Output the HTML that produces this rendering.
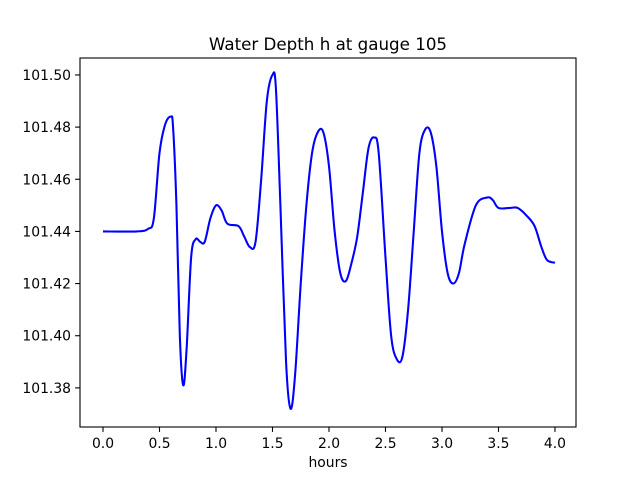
<!DOCTYPE html>
<html><head><meta charset="utf-8"><style>body{margin:0;background:#fff}svg{display:block}text{font-family:"DejaVu Sans","Liberation Sans",sans-serif;fill:#000}</style></head>
<body>
<svg id="chart" width="640" height="480"></svg>
<script>
const tValues=[0,0.3,0.4,0.45,0.5,0.55,0.6,0.62,0.65,0.68,0.71,0.74,0.78,0.82,0.86,0.9,0.95,1.0,1.05,1.1,1.2,1.25,1.3,1.35,1.4,1.45,1.5,1.53,1.57,1.62,1.66,1.7,1.75,1.8,1.85,1.9,1.95,2.0,2.05,2.1,2.15,2.2,2.25,2.3,2.35,2.4,2.44,2.5,2.55,2.6,2.65,2.7,2.75,2.8,2.85,2.9,2.95,3.0,3.05,3.1,3.15,3.2,3.3,3.4,3.45,3.5,3.6,3.67,3.75,3.82,3.88,3.93,4.0];
const hValues=[101.44,101.44,101.441,101.445,101.47,101.481,101.484,101.48,101.45,101.40,101.381,101.395,101.43,101.437,101.436,101.436,101.445,101.45,101.448,101.443,101.442,101.438,101.434,101.436,101.46,101.49,101.50,101.495,101.45,101.39,101.372,101.385,101.42,101.45,101.47,101.478,101.478,101.465,101.44,101.424,101.421,101.428,101.438,101.455,101.472,101.476,101.47,101.43,101.40,101.391,101.392,101.41,101.44,101.47,101.479,101.478,101.465,101.44,101.424,101.42,101.424,101.435,101.45,101.453,101.452,101.449,101.449,101.449,101.446,101.442,101.434,101.429,101.428];
const xTicks=[0,0.5,1,1.5,2,2.5,3,3.5,4];
const xTickLabels=["0.0","0.5","1.0","1.5","2.0","2.5","3.0","3.5","4.0"];
const yTicks=[101.38,101.40,101.42,101.44,101.46,101.48,101.50];
const yTickLabels=["101.38","101.40","101.42","101.44","101.46","101.48","101.50"];
const L=80,R=576,T=58,B=427,xmin=-0.2035,xmax=4.186,ymin=101.365,ymax=101.5065;
const X=v=>L+(v-xmin)/(xmax-xmin)*(R-L), Y=v=>B-(v-ymin)/(ymax-ymin)*(B-T);
const svg=document.getElementById('chart'),NS='http://www.w3.org/2000/svg';
function mk(tag,attrs,parent){const e=document.createElementNS(NS,tag);for(const k in attrs)e.setAttribute(k,attrs[k]);(parent||svg).appendChild(e);return e;}
const P=tValues.map((t,i)=>[X(t),Y(hValues[i])]);
let d='M'+P[0][0].toFixed(2)+','+P[0][1].toFixed(2);
for(let i=0;i<P.length-1;i++){const p0=P[Math.max(i-1,0)],p1=P[i],p2=P[i+1],p3=P[Math.min(i+2,P.length-1)];
const c1=[p1[0]+(p2[0]-p0[0])/6,p1[1]+(p2[1]-p0[1])/6],c2=[p2[0]-(p3[0]-p1[0])/6,p2[1]-(p3[1]-p1[1])/6];
d+='C'+c1[0].toFixed(2)+','+c1[1].toFixed(2)+' '+c2[0].toFixed(2)+','+c2[1].toFixed(2)+' '+p2[0].toFixed(2)+','+p2[1].toFixed(2);}
const line=mk('path',{d:d,fill:'none',stroke:'#0000ff','stroke-width':2.08,'stroke-linejoin':'round'});


const frame=mk('rect',{x:L,y:T,width:R-L,height:B-T,fill:'none',stroke:'#000','stroke-width':1.1});


xTicks.forEach((v,i)=>{const x=X(v);mk('line',{x1:x,x2:x,y1:B,y2:B+4.9,stroke:'#000','stroke-width':1.1});
const t=mk('text',{x:x,y:B+21,'text-anchor':'middle','font-size':13.9});t.textContent=xTickLabels[i];

});
yTicks.forEach((v,i)=>{const y=Y(v);mk('line',{x1:L,x2:L-4.9,y1:y,y2:y,stroke:'#000','stroke-width':1.1});
const t=mk('text',{x:L-9,y:y+5,'text-anchor':'end','font-size':13.9});t.textContent=yTickLabels[i];

});
const title=mk('text',{x:(L+R)/2,y:50,'text-anchor':'middle','font-size':16.7});title.textContent='Water Depth h at gauge 105';


const xl=mk('text',{x:(L+R)/2,y:467,'text-anchor':'middle','font-size':13.9});xl.textContent='hours';


</script>
</body></html>
